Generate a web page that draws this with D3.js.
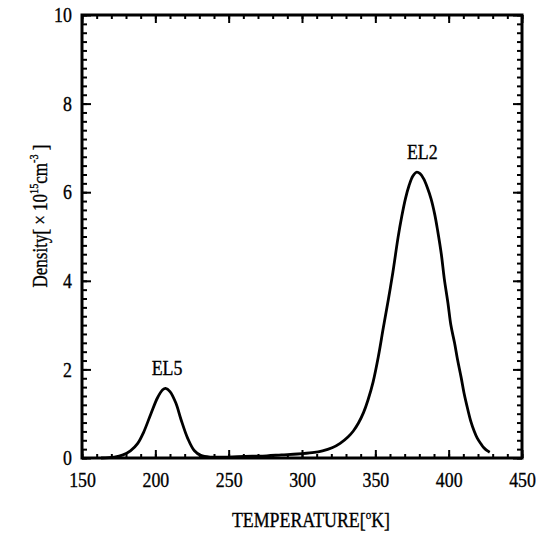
<!DOCTYPE html>
<html>
<head>
<meta charset="utf-8">
<script src="https://cdn.jsdelivr.net/npm/d3@7"></script>
<style>
  body { margin: 0; background: #fff; }
  svg text { font-family: "Liberation Serif", "DejaVu Serif", serif !important; fill: #000; stroke: #000; stroke-width: 0.35px; }
</style>
</head>
<body>
<svg id="chart" width="552" height="533"></svg>
<script>
// density vs temperature spectrum with two peaks
var temperature = [163, 172, 178, 183, 188, 192, 197, 201.5, 205, 207, 210, 214, 217.5, 222, 226.5, 231, 238,
  246, 256, 266, 276, 286, 297, 307, 314, 320.5, 326, 331.5, 335, 338.5, 342, 345, 348.5, 352, 355.5,
  359, 362, 365.5, 368, 370.5, 373, 375.5, 378, 380.5, 383, 385.5, 388, 390.5, 392.5, 395, 397, 399.5,
  401.5, 404, 406, 408.5, 410.5, 413, 415, 417.5, 419.5, 422, 424, 426, 428];
var density = [0.0, 0.02, 0.07, 0.16, 0.33, 0.58, 1.0, 1.36, 1.54, 1.57, 1.5, 1.24, 0.87, 0.45, 0.17, 0.06, 0.02,
  0.02, 0.03, 0.04, 0.05, 0.07, 0.09, 0.12, 0.16, 0.23, 0.33, 0.48, 0.61, 0.79, 1.03, 1.31, 1.72, 2.28, 2.95,
  3.6, 4.2, 4.98, 5.45, 5.85, 6.15, 6.36, 6.45, 6.42, 6.3, 6.1, 5.85, 5.5, 5.13, 4.6, 4.05, 3.5,
  3.0, 2.6, 2.23, 1.82, 1.46, 1.1, 0.84, 0.6, 0.45, 0.32, 0.23, 0.17, 0.13];

var xTicks = [150, 200, 250, 300, 350, 400, 450];
var yTicks = [0, 2, 4, 6, 8, 10];

var peakNames = ["EL5", "EL2"];
var peakTemps = [208, 380];
var peakDens = [1.57, 6.45];

var svg = d3.select("#chart");
var FONT = "'Liberation Serif', 'DejaVu Serif', serif";
var margin = { left: 82, top: 15, right: 30, bottom: 75 };
var W = 552, H = 533;
var sx = 0.85; // the scanned lettering is narrow

var xScale = d3.scaleLinear().domain([150, 450]).range([margin.left, W - margin.right]);
var yScale = d3.scaleLinear().domain([0, 10]).range([H - margin.bottom, margin.top]);

var x0 = xScale.range()[0], x1 = xScale.range()[1];
var y0 = yScale.range()[0], y1 = yScale.range()[1];

var minorX = d3.range(150, 451, 10);
var minorY = d3.range(0, 10.01, 0.2);

function styleAxis(g) {
  g.attr("font-family", null);
  g.select(".domain").remove();
  g.selectAll(".tick line").attr("stroke", "#000").attr("stroke-width", 2);
}

/*** minor ticks on all four sides ***/
svg.append("g").attr("transform", "translate(0," + y0 + ")")
  .call(d3.axisBottom(xScale).tickValues(minorX).tickSize(-4).tickFormat(""))
  .call(styleAxis);
svg.append("g").attr("transform", "translate(0," + y1 + ")")
  .call(d3.axisTop(xScale).tickValues(minorX).tickSize(-4).tickFormat(""))
  .call(styleAxis);
svg.append("g").attr("transform", "translate(" + x0 + ",0)")
  .call(d3.axisLeft(yScale).tickValues(minorY).tickSize(-5).tickFormat(""))
  .call(styleAxis);
svg.append("g").attr("transform", "translate(" + x1 + ",0)")
  .call(d3.axisRight(yScale).tickValues(minorY).tickSize(-5).tickFormat(""))
  .call(styleAxis);

/*** major ticks + labels ***/
var xAxis = svg.append("g").attr("transform", "translate(0," + y0 + ")")
  .call(d3.axisBottom(xScale).tickValues(xTicks).tickSize(-8).tickPadding(14).tickFormat(d3.format("d")))
  .call(styleAxis);
xAxis.selectAll("text")
  .style("font-family", FONT)
  .style("font-size", "21px")
  .attr("transform", "scale(" + sx + ",1)");

svg.append("g").attr("transform", "translate(0," + y1 + ")")
  .call(d3.axisTop(xScale).tickValues(xTicks).tickSize(-8).tickFormat(""))
  .call(styleAxis);

var yAxis = svg.append("g").attr("transform", "translate(" + x0 + ",0)")
  .call(d3.axisLeft(yScale).tickValues(yTicks).tickSize(-9).tickPadding(12).tickFormat(d3.format("d")))
  .call(styleAxis);
yAxis.selectAll("text")
  .style("font-family", FONT)
  .style("font-size", "21px")
  .attr("transform", "scale(" + sx + ",1)");

svg.append("g").attr("transform", "translate(" + x1 + ",0)")
  .call(d3.axisRight(yScale).tickValues(yTicks).tickSize(-9).tickFormat(""))
  .call(styleAxis);

/*** frame ***/
svg.append("rect")
  .attr("x", x0).attr("y", y1)
  .attr("width", x1 - x0).attr("height", y0 - y1)
  .attr("fill", "none").attr("stroke", "#000").attr("stroke-width", 3);

/*** curve ***/
var pts = temperature.map((t, i) => [t, density[i]]);
var line = d3.line()
  .x(d => xScale(d[0]))
  .y(d => yScale(d[1]))
  .curve(d3.curveCatmullRom.alpha(0.5));

svg.append("path")
  .datum(pts)
  .attr("d", line)
  .attr("fill", "none")
  .attr("stroke", "#000")
  .attr("stroke-width", 2.8)
  .attr("stroke-linejoin", "round");

/*** peak labels ***/
svg.selectAll(".peak")
  .data(peakNames)
  .join("text")
  .attr("class", "peak")
  .attr("text-anchor", "middle")
  .style("font-family", FONT)
  .style("font-size", "21px")
  .attr("transform", (d, i) => "translate(" + (xScale(peakTemps[i]) + (i ? 3 : 0)) + "," + (yScale(peakDens[i]) - 13) + ") scale(" + sx + ",1)")
  .text(d => d);

/*** axis titles ***/
var xt = svg.append("text")
  .attr("text-anchor", "middle")
  .style("font-family", FONT)
  .style("font-size", "21px")
  .attr("transform", "translate(" + ((x0 + x1) / 2 + 9) + ",527) scale(" + sx + ",1)");
xt.append("tspan").text("TEMPERATURE[");
xt.append("tspan").style("font-size", "13px").attr("dy", -8).text("o");
xt.append("tspan").attr("dy", 8).text("K]");

var yt = svg.append("text")
  .attr("text-anchor", "middle")
  .style("font-family", FONT)
  .style("font-size", "20px")
  .attr("transform", "translate(47,216) rotate(-90) scale(" + sx + ",1)");
yt.append("tspan").text("Density[ \u00d7 10");
yt.append("tspan").style("font-size", "12px").attr("dy", -9).text("15");
yt.append("tspan").attr("dy", 9).text("cm");
yt.append("tspan").style("font-size", "12px").attr("dy", -9).text("-3");
yt.append("tspan").attr("dy", 9).text(" ]");
</script>
</body>
</html>
